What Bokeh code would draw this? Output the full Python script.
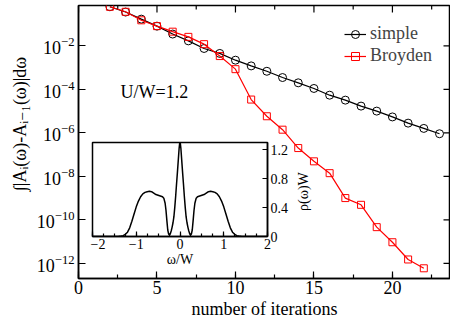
from bokeh.plotting import figure
from bokeh.models import (FixedTicker, SingleIntervalTicker, GridBox,
                          Legend, LegendItem, Label, Range1d)
from bokeh.embed import file_html
from bokeh.resources import INLINE

FONT = "Liberation Serif"
FONT_STACK = "Liberation Serif, DejaVu Serif, DejaVu Sans"

# ---- main data ----
iter_simple = [2, 3, 4, 5, 6, 7, 8, 9, 10, 11, 12, 13, 14, 15, 16, 17, 18, 19, 20, 21, 22, 23]
err_simple = [6.3e-1, 3.6e-1, 1.7e-1, 8.1e-2, 3.5e-2, 1.7e-2, 7.6e-3, 4.5e-3, 2.2e-3, 1.2e-3,
              6.8e-4, 3.5e-4, 2.0e-4, 1.1e-4, 5.4e-5, 3.2e-5, 1.7e-5, 1.0e-5, 5.4e-6, 2.8e-6,
              1.6e-6, 9.1e-7]
iter_broyden = [2, 3, 4, 5, 6, 7, 8, 9, 10, 11, 12, 13, 14, 15, 16, 17, 18, 19, 20, 21, 22]
err_broyden = [6.3e-1, 3.7e-1, 1.5e-1, 8.1e-2, 4.5e-2, 2.6e-2, 1.2e-2, 3.4e-3, 8.5e-4, 3.4e-5,
               5.8e-6, 1.4e-6, 2.0e-7, 4.9e-8, 1.4e-8, 1.0e-9, 4.9e-10, 4.6e-11, 9.3e-12,
               1.5e-12, 5.9e-13]
x_ticks = [0, 5, 10, 15, 20]
x_minor_ticks = [2.5, 7.5, 12.5, 17.5, 22.5]
y_ticks = [1e-12, 1e-10, 1e-8, 1e-6, 1e-4, 1e-2]
x_min, x_max = 0, 23.7
y_min, y_max = 2.0e-13, 0.72

# ---- inset data ----
omega = [-2.0, -1.6, -1.4, -1.35, -1.3, -1.25, -1.2, -1.15, -1.1, -1.05, -1.0, -0.95, -0.9,
         -0.85, -0.8, -0.75, -0.7, -0.65, -0.6, -0.55, -0.5, -0.45, -0.4, -0.37, -0.34, -0.32,
         -0.3, -0.28, -0.26, -0.24, -0.22, -0.2, -0.18, -0.16, -0.14, -0.12, -0.1, -0.08,
         -0.06, -0.04, -0.02, 0.0,
         0.02, 0.04, 0.06, 0.08, 0.1, 0.12, 0.14, 0.16, 0.18, 0.2, 0.22, 0.24, 0.26, 0.28,
         0.3, 0.32, 0.34, 0.37, 0.4, 0.45, 0.5, 0.55, 0.6, 0.65, 0.7, 0.75, 0.8, 0.85, 0.9,
         0.95, 1.0, 1.05, 1.1, 1.15, 1.2, 1.25, 1.3, 1.35, 1.4, 1.6, 2.0]
rho = [0.0, 0.0, 0.003, 0.006, 0.012, 0.03, 0.06, 0.12, 0.21, 0.31, 0.41, 0.49, 0.55,
       0.59, 0.61, 0.62, 0.625, 0.62, 0.60, 0.58, 0.57, 0.56, 0.55, 0.53, 0.46, 0.36,
       0.22, 0.09, 0.035, 0.02, 0.04, 0.08, 0.13, 0.19, 0.27, 0.40, 0.55, 0.72,
       0.88, 1.05, 1.22, 1.33,
       1.22, 1.05, 0.88, 0.72, 0.55, 0.40, 0.27, 0.19, 0.13, 0.08, 0.04, 0.02, 0.035, 0.09,
       0.22, 0.36, 0.46, 0.53, 0.55, 0.56, 0.57, 0.58, 0.60, 0.62, 0.625, 0.62, 0.61, 0.59, 0.55,
       0.49, 0.41, 0.31, 0.21, 0.12, 0.06, 0.03, 0.012, 0.006, 0.003, 0.0, 0.0]
inset_y_ticks = [0, 0.4, 0.8, 1.2]

# ---- main figure ----
p = figure(width=450, height=321, x_range=Range1d(x_min, x_max), y_range=Range1d(y_min, y_max),
           y_axis_type="log", output_backend="svg", toolbar_location=None, frame_align=False,
           min_border_left=78, min_border_right=0, min_border_top=5, min_border_bottom=43)
p.grid.visible = False
p.outline_line_color = "black"
p.outline_line_width = 1.5
p.background_fill_color = "white"
p.border_fill_color = "white"


def style_axis(ax, size="18px"):
    ax.axis_line_width = 1.5
    ax.axis_line_color = "black"
    ax.major_tick_in = 7
    ax.major_tick_out = 0
    ax.minor_tick_in = 4
    ax.minor_tick_out = 0
    ax.major_tick_line_width = 1.2
    ax.minor_tick_line_width = 1.2
    ax.major_label_text_font = FONT
    ax.major_label_text_color = "black"
    ax.major_label_text_font_size = size
    ax.axis_label_text_font = FONT
    ax.axis_label_text_font_style = "normal"
    ax.axis_label_text_color = "black"


p.xaxis.ticker = SingleIntervalTicker(interval=5, num_minor_ticks=2)
p.yaxis.ticker = FixedTicker(ticks=y_ticks, minor_ticks=[])
for ax in p.xaxis:
    style_axis(ax)
    ax.major_label_standoff = 2
    ax.axis_label = "number of iterations"
    ax.axis_label_text_font_size = "18px"
    ax.axis_label_standoff = 2
for ax in p.yaxis:
    style_axis(ax)
    ax.major_label_standoff = 4
    # two leading em spaces keep the visible title centred on the frame
    ax.axis_label = "\u2003\u2003\u222b|A\u1d62(\u03c9)-A\u1d62\u208b\u2081(\u03c9)|d\u03c9"
    ax.axis_label_text_font = FONT_STACK
    ax.axis_label_text_font_size = "18px"
    ax.axis_label_standoff = 4

# mirror ticks on the top and right frame edges
p.ray(x=x_ticks, y=[y_max] * len(x_ticks), length=7, length_units="screen",
      angle=-90, angle_units="deg", line_color="black", line_width=1.2)
p.ray(x=x_minor_ticks, y=[y_max] * len(x_minor_ticks), length=4, length_units="screen",
      angle=-90, angle_units="deg", line_color="black", line_width=1.2)
p.ray(x=[x_max] * len(y_ticks), y=y_ticks, length=7, length_units="screen",
      angle=180, angle_units="deg", line_color="black", line_width=1.2)

l1 = p.line(iter_simple, err_simple, line_color="black", line_width=1.2)
s1 = p.scatter(iter_simple, err_simple, marker="circle", size=8, line_color="black",
               fill_color=None, line_width=1)
l2 = p.line(iter_broyden, err_broyden, line_color="#ff0000", line_width=1.2)
s2 = p.scatter(iter_broyden, err_broyden, marker="square", size=7, line_color="#ff0000",
               fill_color=None, line_width=1)

legend = Legend(items=[LegendItem(label="simple", renderers=[l1, s1]),
                       LegendItem(label="Broyden", renderers=[l2, s2])],
                location="top_right", margin=18, padding=0, spacing=1,
                glyph_width=22, glyph_height=20, label_standoff=4,
                label_text_font=FONT, label_text_font_size="18px",
                background_fill_alpha=0, border_line_color=None)
p.add_layout(legend)

p.add_layout(Label(x=2.68, y=7.6e-5, text="U/W=1.2", text_font=FONT,
                   text_font_size="18px", text_baseline="middle", text_color="black"))

# y-axis title of the inset (sits to the right of the inset's tick labels)
p.add_layout(Label(x=14.35, y=2.0e-9, text="\u03c1(\u03c9)W", angle=90, angle_units="deg",
                   text_font=FONT, text_font_size="14px", text_align="center",
                   text_baseline="middle", text_color="black"))

# ---- inset figure ----
inset = figure(frame_width=175, frame_height=94, x_range=Range1d(-2, 2), y_range=Range1d(0, 1.3),
               output_backend="svg", toolbar_location=None, frame_align=False,
               x_axis_location="below", y_axis_location="right",
               min_border_left=2, min_border_top=2, min_border_right=0, min_border_bottom=0,
               margin=(140, 0, 0, 90))
inset.grid.visible = False
inset.outline_line_color = "black"
inset.outline_line_width = 1.5
inset.background_fill_color = "white"
inset.border_fill_color = None

inset.xaxis.ticker = SingleIntervalTicker(interval=1, num_minor_ticks=4)
inset.yaxis.ticker = FixedTicker(ticks=inset_y_ticks, minor_ticks=[])
for ax in inset.xaxis:
    style_axis(ax, size="14px")
    ax.major_tick_in = 5
    ax.minor_tick_in = 3
    ax.major_label_standoff = 2
    ax.axis_label = "\u03c9/W"
    ax.axis_label_text_font_size = "14px"
    ax.axis_label_standoff = 0
for ax in inset.yaxis:
    style_axis(ax, size="14px")
    ax.major_tick_in = 5
    ax.major_label_standoff = 3
    ax.major_label_overrides = {0: "0"}

inset.line(omega, rho, line_color="black", line_width=1.5)

layout = GridBox(children=[(p, 0, 0), (inset, 0, 0)])

open("out.html", "w").write(file_html(layout, INLINE))
